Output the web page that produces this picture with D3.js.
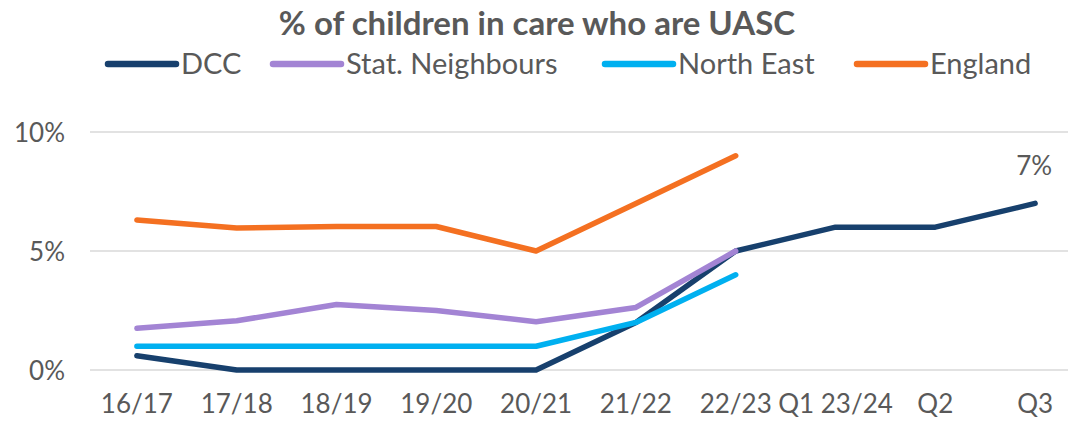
<!DOCTYPE html>
<html><head><meta charset="utf-8">
<script src="https://cdn.jsdelivr.net/npm/d3@7"></script>
<style>body{margin:0;background:#fff;} svg{display:block;font-family:Lato, "Open Sans", sans-serif;}</style>
</head><body><svg id="c" width="1068" height="421"></svg>
<script>
const categories = ["16/17","17/18","18/19","19/20","20/21","21/22","22/23","Q1 23/24","Q2","Q3"];
const dcc = [0.6,0,0,0,0,2.0,5.0,6.0,6.0,7.0];
const statNeighbours = [1.75,2.07,2.75,2.5,2.03,2.63,5.0,null,null,null];
const northEast = [1.0,1.0,1.0,1.0,1.0,2.0,4.0,null,null,null];
const england = [6.3,5.97,6.03,6.03,5.0,7.0,9.0,null,null,null];
const yTicks = [0,5,10];
const seriesNames = ["DCC","Stat. Neighbours","North East","England"];
const colors = ["#17406d","#a384d4","#00b0f0","#f47021"];
const series = [dcc, statNeighbours, northEast, england];

const svg = d3.select("#c");
const x = d3.scaleBand().domain(categories).range([87,1085]);
const y = d3.scaleLinear().domain([0,10]).range([370,132]);
const grey = "#595959";

// gridlines
svg.append("g").selectAll("line").data(yTicks).join("line")
  .attr("x1",90).attr("x2",1068).attr("y1",d=>y(d)).attr("y2",d=>y(d))
  .attr("stroke","#d9d9d9").attr("stroke-width",1.5);

// y axis labels
const yAxis = d3.axisLeft(y).tickValues(yTicks).tickFormat(d=>d+"%").tickSize(0).tickPadding(0);
const ya = svg.append("g").attr("transform","translate(65,0)").call(yAxis);
ya.select(".domain").remove();
ya.selectAll("text").attr("font-size",26).attr("fill",grey).attr("font-family","Lato, sans-serif").attr("dy","0.35em");

// x axis labels
const xAxis = d3.axisBottom(x).tickSize(0).tickPadding(0);
const xa = svg.append("g").attr("transform","translate(0,413)").call(xAxis);
xa.select(".domain").remove();
xa.selectAll("text").attr("font-size",26).attr("fill",grey).attr("font-family","Lato, sans-serif").attr("dy",0);

// lines
const line = d3.line().defined(d=>d[1]!=null).x(d=>x(d[0])+x.bandwidth()/2).y(d=>y(d[1]));
series.forEach((s,i)=>{
  svg.append("path").datum(categories.map((c,j)=>[c,s[j]]))
    .attr("d",line).attr("fill","none").attr("stroke",colors[i])
    .attr("stroke-width",5.5).attr("stroke-linecap","round").attr("stroke-linejoin","round");
});

// data label
svg.append("text").attr("x",x("Q3")+x.bandwidth()/2-1).attr("y",y(dcc[9])-28)
  .attr("text-anchor","middle").attr("font-size",26).attr("fill",grey).text(dcc[9]+"%");

// title
svg.append("text").attr("x",537).attr("y",35).attr("text-anchor","middle")
  .attr("font-size",33).attr("font-weight","bold").attr("fill",grey)
  .text("% of children in care who are UASC");

// legend
const legX = [108,273,605,857];
const lg = svg.append("g").selectAll("g").data(seriesNames).join("g")
  .attr("transform",(d,i)=>`translate(${legX[i]},64)`);
lg.append("line").attr("x1",0).attr("x2",68).attr("stroke",(d,i)=>colors[i])
  .attr("stroke-width",6.5).attr("stroke-linecap","round");
lg.append("text").attr("x",73).attr("y",10).attr("font-size",29).attr("fill",grey).text(d=>d);
</script></body></html>
